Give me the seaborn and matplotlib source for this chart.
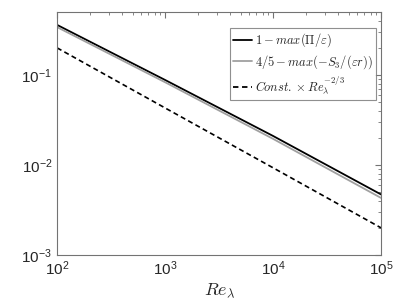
import seaborn as sns
import matplotlib.pyplot as plt
import matplotlib.ticker as mticker
import pandas as pd
import numpy as np

# values
re_lambda = [1e2, 1e3, 1e4, 1e5]
one_minus_pi = [0.36, 0.088, 0.021, 0.0047]
four_fifths_s3 = [0.34, 0.083, 0.0195, 0.0043]
const_scaling = [0.2, 0.043, 0.0093, 0.002]

labels = [r"$1 - max(\Pi/\varepsilon)$",
          r"$4/5 - max(-S_3/(\varepsilon r))$",
          r"$Const. \times Re_{\lambda}^{-2/3}$"]

df = pd.DataFrame({
    "Re": re_lambda * 3,
    "val": one_minus_pi + four_fifths_s3 + const_scaling,
    "series": [labels[0]] * 4 + [labels[1]] * 4 + [labels[2]] * 4,
})

sns.set_style("white")
plt.rcParams["font.family"] = ["Liberation Sans", "DejaVu Sans"]
plt.rcParams["mathtext.fontset"] = "cm"

fig = plt.figure(figsize=(3.99, 3.01), dpi=100)
ax = fig.add_axes([0.143, 0.153, 0.812, 0.807])

sns.lineplot(data=df, x="Re", y="val", hue="series", style="series",
             palette=["black", "#a0a0a0", "black"],
             dashes=[(None, None), (None, None), (3, 2)],
             linewidth=1.3, ax=ax)
ax.lines[2].set_linewidth(1.2)

ax.set_xscale("log")
ax.set_yscale("log")
ax.set_xlim(1e2, 1e5)
ax.set_ylim(1e-3, 0.5)

ax.xaxis.set_major_locator(mticker.LogLocator(base=10, numticks=10))
ax.yaxis.set_major_locator(mticker.FixedLocator([1e-3, 1e-2, 1e-1]))
ax.xaxis.set_minor_locator(mticker.LogLocator(base=10, subs=np.arange(2, 10), numticks=20))
ax.yaxis.set_minor_locator(mticker.LogLocator(base=10, subs=np.arange(2, 10), numticks=20))
ax.xaxis.set_minor_formatter(mticker.NullFormatter())
ax.yaxis.set_minor_formatter(mticker.NullFormatter())

axcol = "0.45"
for sp in ax.spines.values():
    sp.set_color(axcol)
    sp.set_linewidth(0.8)
ax.tick_params(which="both", direction="in", top=True, right=True,
               color=axcol, labelsize=11, labelcolor="0.15")
ax.tick_params(which="major", length=4)
ax.tick_params(which="minor", length=2)

ax.set_xlabel(r"$Re_{\lambda}$", fontsize=13, labelpad=2)
ax.set_ylabel("")

leg = ax.legend(loc="upper right", bbox_to_anchor=(0.993, 0.945),
                fontsize=9, frameon=True, fancybox=False,
                handlelength=1.5, handletextpad=0.2, borderpad=0.3,
                labelspacing=0.3, borderaxespad=0.2)
leg.get_frame().set_edgecolor("0.45")
leg.get_frame().set_linewidth(0.8)

plt.savefig("out.png", dpi=100)
